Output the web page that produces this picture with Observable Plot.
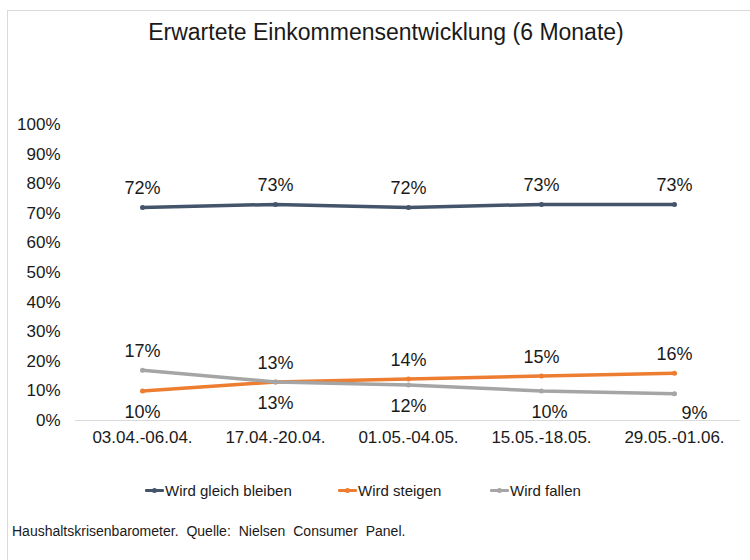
<!DOCTYPE html>
<html>
<head>
<meta charset="utf-8">
<script src="https://cdn.jsdelivr.net/npm/d3@7"></script>
<script src="https://cdn.jsdelivr.net/npm/@observablehq/plot@0.6"></script>
<style>
  body { margin: 0; background: #fff; font-family: "Liberation Sans", Arial, sans-serif; }
  #wrap { position: relative; width: 750px; height: 560px; overflow: hidden; }
  #frame { position: absolute; left: 7px; top: 10px; width: 800px; height: 600px; border: 1px solid #d9d9d9; }
  #title { position: absolute; left: 0; width: 772px; top: 19px; text-align: center; font-size: 23px; color: #1a1a1a; }
  #chart { position: absolute; left: 0; top: 100px; }
  #legend { position: absolute; top: 482px; left: 0; width: 750px; height: 20px; font-size: 15px; color: #1a1a1a; }
  .li { position: absolute; display: flex; align-items: center; white-space: nowrap; }
  .sw { position: relative; display: inline-block; width: 19px; height: 3px; margin-right: 1px; border-radius: 1px; }
  .sw::after { content: ""; position: absolute; left: 7px; top: -1px; width: 5px; height: 5px; border-radius: 50%; background: inherit; }
  #caption { position: absolute; left: 12px; top: 523px; font-size: 14px; color: #1a1a1a; word-spacing: 4px; }
</style>
</head>
<body>
<div id="wrap">
  <div id="frame"></div>
  <div id="title">Erwartete Einkommensentwicklung (6 Monate)</div>
  <div id="chart"></div>
  <div id="legend"></div>
  <div id="caption">Haushaltskrisenbarometer. Quelle: Nielsen Consumer Panel.</div>
</div>
<script>
const periods = ["03.04.-06.04.", "17.04.-20.04.", "01.05.-04.05.", "15.05.-18.05.", "29.05.-01.06."];
const gleich = [72, 73, 72, 73, 73];
const steigen = [10, 13, 14, 15, 16];
const fallen = [17, 13, 12, 10, 9];
const seriesNames = ["Wird gleich bleiben", "Wird steigen", "Wird fallen"];
const seriesColors = ["#44546A", "#ED7D31", "#A5A5A5"];
// label placement per point: "above" or "below"
const steigenPos = ["below", "above", "above", "above", "above"];
const fallenPos = ["above", "below", "below", "below", "below"];
const yTicks = [0, 10, 20, 30, 40, 50, 60, 70, 80, 90, 100];

const rows = [];
[gleich, steigen, fallen].forEach((arr, si) => {
  arr.forEach((v, i) => {
    let pos = "above";
    if (si === 1) pos = steigenPos[i];
    if (si === 2) pos = fallenPos[i];
    rows.push({period: periods[i], value: v, series: seriesNames[si], pos, idx: i, si});
  });
});
// small horizontal nudges of the lower grey labels near the right edge (as in the original)
const nudge = d => (d.si === 2 && d.idx === 3 ? 8 : d.si === 2 && d.idx === 4 ? 20 : 0);

const chart = Plot.plot({
  width: 750,
  height: 360,
  marginTop: 24,
  marginBottom: 40,
  marginLeft: 75,
  marginRight: 10,
  style: { fontFamily: "Liberation Sans, Arial, sans-serif", color: "#1a1a1a", background: "transparent" },
  x: { type: "point", domain: periods, padding: 0.5, label: null },
  y: { domain: [0, 100], label: null },
  color: { domain: seriesNames, range: seriesColors },
  marks: [
    Plot.axisY({ ticks: yTicks, tickSize: 0, tickPadding: 15, tickFormat: d => d + "%", fontSize: 17, label: null }),
    Plot.axisX({ tickSize: 0, tickPadding: 10, fontSize: 17, label: null }),
    Plot.ruleY([0], { stroke: "#d9d9d9", strokeWidth: 1 }),
    Plot.line(rows, { x: "period", y: "value", z: "series", stroke: "series", strokeWidth: 3.5, strokeLinecap: "round", strokeLinejoin: "round" }),
    Plot.dot(rows, { x: "period", y: "value", fill: "series", r: 2.5 }),
    Plot.text(rows.filter(d => d.pos === "above"), { x: "period", y: "value", text: d => d.value + "%", dy: -19, fontSize: 18, fill: "#1a1a1a" }),
    Plot.text(rows.filter(d => d.pos === "below" && nudge(d) === 0), { x: "period", y: "value", text: d => d.value + "%", dy: 21, fontSize: 18, fill: "#1a1a1a" }),
    Plot.text(rows.filter(d => d.pos === "below" && nudge(d) === 8), { x: "period", y: "value", text: d => d.value + "%", dy: 21, dx: 8, fontSize: 18, fill: "#1a1a1a" }),
    Plot.text(rows.filter(d => d.pos === "below" && nudge(d) === 20), { x: "period", y: "value", text: d => d.value + "%", dy: 19, dx: 20, fontSize: 18, fill: "#1a1a1a" })
  ]
});
document.getElementById("chart").appendChild(chart);

const legend = document.getElementById("legend");
const legendX = [145, 338, 490];
seriesNames.forEach((name, i) => {
  const item = document.createElement("div");
  item.className = "li";
  item.style.left = legendX[i] + "px";
  const sw = document.createElement("span");
  sw.className = "sw";
  sw.style.background = seriesColors[i];
  item.appendChild(sw);
  const t = document.createElement("span");
  t.textContent = name;
  item.appendChild(t);
  legend.appendChild(item);
});
</script>
</body>
</html>
